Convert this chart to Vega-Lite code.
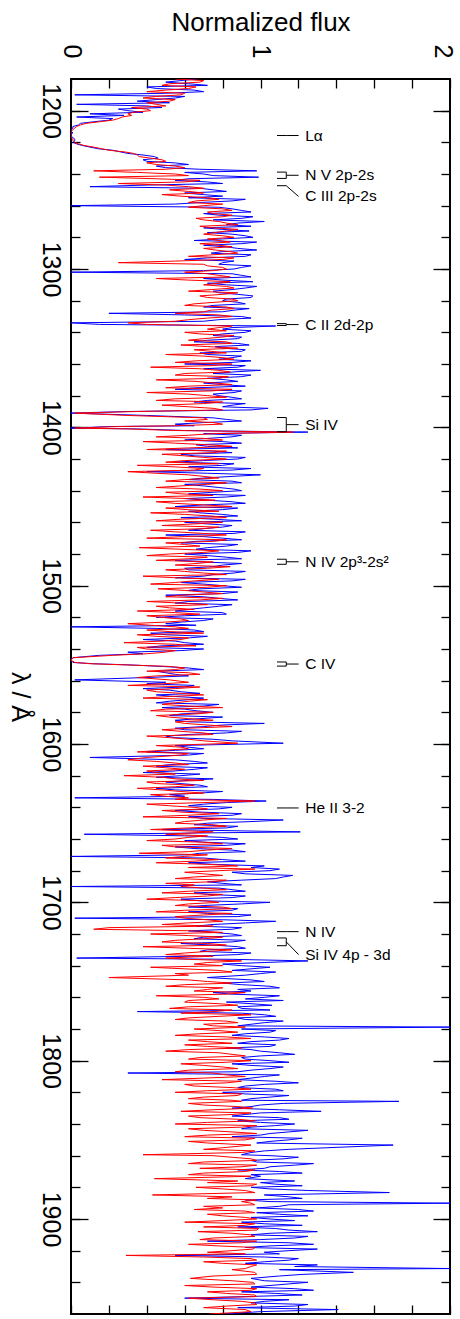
{
"$schema": "https://vega.github.io/schema/vega-lite/v6.json",
"width": 379, "height": 1235,
"autosize": "none",
"padding": {"left": 71, "top": 79, "right": 10, "bottom": 5},
"background": "white",
"config": {"view": {"stroke": "black", "strokeWidth": 2},
  "axis": {"grid": false, "domain": false, "tickColor": "black", "tickWidth": 1.3, "labelColor": "black", "titleColor": "black", "labelFont": "Liberation Sans", "titleFont": "Liberation Sans", "labelFlush": false, "labelOverlap": false, "titleFontWeight": "normal"}},
"datasets": {
"spec": [
{"w":1180,"b":0.66,"r":0.55},{"w":1182,"b":0.50,"r":0.68},{"w":1184,"b":0.72,"r":0.48},{"w":1186,"b":0.45,"r":0.62},{"w":1188,"b":0.70,"r":0.40},{"w":1190,"b":0.02,"r":0.58},{"w":1192,"b":0.55,"r":0.38},{"w":1194,"b":0.35,"r":0.52},{"w":1196,"b":0.03,"r":0.45},{"w":1198,"b":0.48,"r":0.32},
{"w":1200,"b":0.30,"r":0.42},{"w":1202,"b":0.10,"r":0.30},{"w":1204,"b":0.03,"r":0.27},{"w":1206,"b":0.20,"r":0.22},{"w":1208,"b":0.05,"r":0.08},{"w":1210,"b":0.01,"r":0.03},{"w":1212,"b":0.00,"r":0.01},{"w":1214,"b":0.01,"r":0.00},{"w":1216,"b":0.00,"r":0.00},{"w":1218,"b":0.02,"r":0.01},
{"w":1220,"b":0.01,"r":0.02},{"w":1222,"b":0.06,"r":0.07},{"w":1224,"b":0.14,"r":0.16},{"w":1226,"b":0.26,"r":0.28},{"w":1228,"b":0.38,"r":0.35},{"w":1230,"b":0.46,"r":0.42},{"w":1232,"b":0.40,"r":0.50},{"w":1234,"b":0.62,"r":0.45},{"w":1236,"b":0.50,"r":0.60},{"w":1238,"b":0.98,"r":0.12},
{"w":1240,"b":0.70,"r":0.55},{"w":1242,"b":0.99,"r":0.15},{"w":1244,"b":0.55,"r":0.68},{"w":1246,"b":0.80,"r":0.25},{"w":1248,"b":0.10,"r":0.62},{"w":1250,"b":0.75,"r":0.52},{"w":1252,"b":0.60,"r":0.70},{"w":1254,"b":0.80,"r":0.58},{"w":1256,"b":0.92,"r":0.78},{"w":1258,"b":0.68,"r":0.62},
{"w":1260,"b":0.00,"r":0.70},{"w":1262,"b":0.85,"r":0.80},{"w":1264,"b":0.95,"r":0.72},{"w":1266,"b":0.78,"r":0.85},{"w":1268,"b":0.90,"r":0.66},{"w":1270,"b":1.02,"r":0.78},{"w":1272,"b":0.82,"r":0.88},{"w":1274,"b":0.70,"r":0.75},{"w":1276,"b":0.94,"r":0.82},{"w":1278,"b":0.85,"r":0.70},
{"w":1280,"b":0.96,"r":0.86},{"w":1282,"b":0.65,"r":0.78},{"w":1284,"b":0.90,"r":0.68},{"w":1286,"b":0.82,"r":0.85},{"w":1288,"b":0.98,"r":0.76},{"w":1290,"b":0.74,"r":0.88},{"w":1292,"b":0.92,"r":0.62},{"w":1294,"b":0.60,"r":0.80},{"w":1296,"b":0.80,"r":0.25},{"w":1298,"b":0.95,"r":0.72},
{"w":1300,"b":0.86,"r":0.82},{"w":1302,"b":0.00,"r":0.60},{"w":1304,"b":0.90,"r":0.78},{"w":1306,"b":0.70,"r":0.45},{"w":1308,"b":0.96,"r":0.84},{"w":1310,"b":0.82,"r":0.70},{"w":1312,"b":0.92,"r":0.86},{"w":1314,"b":0.75,"r":0.62},{"w":1316,"b":0.88,"r":0.80},{"w":1318,"b":0.95,"r":0.72},
{"w":1320,"b":0.80,"r":0.88},{"w":1322,"b":0.92,"r":0.65},{"w":1324,"b":0.70,"r":0.82},{"w":1326,"b":0.86,"r":0.74},{"w":1328,"b":0.20,"r":0.55},{"w":1330,"b":0.90,"r":0.85},{"w":1332,"b":0.78,"r":0.62},{"w":1334,"b":0.00,"r":0.30},{"w":1336,"b":1.08,"r":0.85},{"w":1338,"b":0.80,"r":0.72},
{"w":1340,"b":0.92,"r":0.60},{"w":1342,"b":0.75,"r":0.86},{"w":1344,"b":0.88,"r":0.70},{"w":1346,"b":0.65,"r":0.82},{"w":1348,"b":0.94,"r":0.58},{"w":1350,"b":0.80,"r":0.88},{"w":1352,"b":0.90,"r":0.74},{"w":1354,"b":0.72,"r":0.50},{"w":1356,"b":0.85,"r":0.80},{"w":1358,"b":0.95,"r":0.66},
{"w":1360,"b":0.60,"r":0.85},{"w":1362,"b":0.88,"r":0.42},{"w":1364,"b":1.00,"r":0.78},{"w":1366,"b":0.75,"r":0.60},{"w":1368,"b":0.90,"r":0.83},{"w":1370,"b":0.82,"r":0.45},{"w":1372,"b":0.70,"r":0.76},{"w":1374,"b":0.92,"r":0.62},{"w":1376,"b":0.55,"r":0.85},{"w":1378,"b":0.86,"r":0.40},
{"w":1380,"b":0.78,"r":0.72},{"w":1382,"b":0.90,"r":0.55},{"w":1384,"b":0.65,"r":0.80},{"w":1386,"b":0.85,"r":0.48},{"w":1388,"b":1.04,"r":0.75},{"w":1390,"b":0.30,"r":0.35},{"w":1391,"b":0.00,"r":0.02},{"w":1392.5,"b":0.40,"r":0.30},{"w":1394,"b":0.75,"r":0.70},{"w":1396,"b":0.90,"r":0.60},
{"w":1398,"b":0.55,"r":0.80},{"w":1399.5,"b":0.20,"r":0.25},{"w":1400.5,"b":0.00,"r":0.02},{"w":1402,"b":0.60,"r":0.55},{"w":1403,"b":1.25,"r":1.17},{"w":1404,"b":0.70,"r":0.75},{"w":1406,"b":0.85,"r":0.45},{"w":1408,"b":0.60,"r":0.80},{"w":1410,"b":0.90,"r":0.55},{"w":1412,"b":0.72,"r":0.85},
{"w":1414,"b":0.50,"r":0.40},{"w":1416,"b":0.85,"r":0.75},{"w":1418,"b":0.65,"r":0.60},{"w":1420,"b":0.88,"r":0.82},{"w":1422,"b":0.55,"r":0.50},{"w":1424,"b":0.80,"r":0.35},{"w":1426,"b":0.95,"r":0.70},{"w":1428,"b":0.40,"r":0.30},{"w":1430,"b":1.00,"r":0.62},{"w":1432,"b":0.70,"r":0.78},
{"w":1434,"b":0.85,"r":0.50},{"w":1436,"b":0.60,"r":0.72},{"w":1438,"b":0.78,"r":0.45},{"w":1440,"b":0.90,"r":0.80},{"w":1442,"b":0.62,"r":0.58},{"w":1444,"b":0.82,"r":0.38},{"w":1446,"b":0.72,"r":0.76},{"w":1448,"b":0.92,"r":0.55},{"w":1450,"b":0.55,"r":0.85},{"w":1452,"b":0.80,"r":0.62},
{"w":1454,"b":0.68,"r":0.42},{"w":1456,"b":0.88,"r":0.74},{"w":1458,"b":0.75,"r":0.58},{"w":1460,"b":0.60,"r":0.80},{"w":1462,"b":0.85,"r":0.48},{"w":1464,"b":0.70,"r":0.70},{"w":1466,"b":0.92,"r":0.55},{"w":1468,"b":0.50,"r":0.82},{"w":1470,"b":0.80,"r":0.40},{"w":1472,"b":0.66,"r":0.75},
{"w":1474,"b":0.88,"r":0.60},{"w":1476,"b":0.72,"r":0.36},{"w":1478,"b":0.95,"r":0.78},{"w":1480,"b":0.60,"r":0.52},{"w":1482,"b":0.82,"r":0.72},{"w":1484,"b":0.55,"r":0.45},{"w":1486,"b":0.90,"r":0.66},{"w":1488,"b":0.75,"r":0.84},{"w":1490,"b":0.62,"r":0.50},{"w":1492,"b":0.86,"r":0.70},
{"w":1494,"b":0.70,"r":0.38},{"w":1496,"b":0.92,"r":0.78},{"w":1498,"b":0.58,"r":0.55},{"w":1500,"b":0.80,"r":0.82},{"w":1502,"b":0.68,"r":0.46},{"w":1504,"b":0.88,"r":0.70},{"w":1506,"b":0.50,"r":0.58},{"w":1508,"b":0.78,"r":0.80},{"w":1510,"b":0.62,"r":0.40},{"w":1512,"b":0.85,"r":0.72},
{"w":1514,"b":0.70,"r":0.52},{"w":1516,"b":0.55,"r":0.35},{"w":1518,"b":0.82,"r":0.68},{"w":1520,"b":0.45,"r":0.48},{"w":1522,"b":0.70,"r":0.62},{"w":1524,"b":0.50,"r":0.30},{"w":1526,"b":0.00,"r":0.55},{"w":1528,"b":0.65,"r":0.40},{"w":1530,"b":0.42,"r":0.70},{"w":1532,"b":0.72,"r":0.45},
{"w":1534,"b":0.38,"r":0.58},{"w":1536,"b":0.60,"r":0.28},{"w":1538,"b":0.48,"r":0.66},{"w":1540,"b":0.70,"r":0.40},{"w":1542,"b":0.30,"r":0.50},{"w":1544,"b":0.15,"r":0.22},{"w":1545.5,"b":0.01,"r":0.01},{"w":1547,"b":0.00,"r":0.00},{"w":1548.5,"b":0.01,"r":0.02},{"w":1550,"b":0.30,"r":0.28},
{"w":1552,"b":0.62,"r":0.60},{"w":1554,"b":0.45,"r":0.40},{"w":1556,"b":0.55,"r":0.68},{"w":1558,"b":0.40,"r":0.35},{"w":1559.5,"b":0.02,"r":0.52},{"w":1561,"b":0.50,"r":0.62},{"w":1563,"b":0.65,"r":0.30},{"w":1565,"b":0.38,"r":0.55},{"w":1567,"b":0.58,"r":0.45},{"w":1569,"b":0.45,"r":0.70},
{"w":1571,"b":0.70,"r":0.38},{"w":1573,"b":0.52,"r":0.62},{"w":1575,"b":0.78,"r":0.48},{"w":1577,"b":0.48,"r":0.80},{"w":1579,"b":0.66,"r":0.42},{"w":1581,"b":0.58,"r":0.66},{"w":1583,"b":0.80,"r":0.52},{"w":1585,"b":0.55,"r":0.75},{"w":1587,"b":1.02,"r":0.60},{"w":1589,"b":0.70,"r":0.85},
{"w":1591,"b":0.60,"r":0.48},{"w":1593,"b":0.82,"r":0.70},{"w":1595,"b":0.50,"r":0.40},{"w":1597,"b":0.75,"r":0.62},{"w":1599.5,"b":1.12,"r":0.88},{"w":1601,"b":0.55,"r":0.45},{"w":1603,"b":0.70,"r":0.62},{"w":1605,"b":0.40,"r":0.35},{"w":1607,"b":0.62,"r":0.58},{"w":1608.5,"b":0.10,"r":0.40},
{"w":1610,"b":0.55,"r":0.30},{"w":1612,"b":0.72,"r":0.55},{"w":1614,"b":0.45,"r":0.38},{"w":1616,"b":0.65,"r":0.60},{"w":1618,"b":0.38,"r":0.45},{"w":1620,"b":0.58,"r":0.28},{"w":1622,"b":0.75,"r":0.55},{"w":1624,"b":0.50,"r":0.40},{"w":1626,"b":0.68,"r":0.65},{"w":1628,"b":0.45,"r":0.35},
{"w":1630,"b":0.80,"r":0.58},{"w":1632,"b":0.52,"r":0.42},{"w":1634,"b":0.02,"r":0.62},{"w":1636,"b":1.03,"r":0.97},{"w":1638,"b":0.70,"r":0.40},{"w":1640,"b":0.85,"r":0.65},{"w":1642,"b":0.55,"r":0.48},{"w":1644,"b":0.90,"r":0.78},{"w":1646,"b":0.62,"r":0.38},{"w":1648,"b":1.12,"r":0.70},
{"w":1650,"b":0.72,"r":0.55},{"w":1652,"b":0.88,"r":0.82},{"w":1654,"b":0.48,"r":0.42},{"w":1655.5,"b":1.21,"r":0.75},{"w":1657,"b":0.07,"r":0.50},{"w":1659,"b":0.80,"r":0.62},{"w":1661,"b":0.60,"r":0.40},{"w":1663,"b":0.92,"r":0.80},{"w":1665,"b":0.55,"r":0.55},{"w":1667,"b":0.85,"r":0.72},
{"w":1669,"b":0.68,"r":0.36},{"w":1671,"b":0.00,"r":0.60},{"w":1673,"b":0.80,"r":0.78},{"w":1675,"b":0.62,"r":0.45},{"w":1677,"b":1.02,"r":0.88},{"w":1679,"b":1.10,"r":0.97},{"w":1681,"b":0.85,"r":0.60},{"w":1683,"b":1.17,"r":0.80},{"w":1685,"b":1.08,"r":0.55},{"w":1687,"b":0.72,"r":0.75},
{"w":1689,"b":0.90,"r":0.65},{"w":1690,"b":0.00,"r":0.58},{"w":1692,"b":0.85,"r":0.82},{"w":1694,"b":0.65,"r":0.48},{"w":1696,"b":0.92,"r":0.72},{"w":1698,"b":0.58,"r":0.40},{"w":1700,"b":1.05,"r":0.78},{"w":1702,"b":0.70,"r":0.55},{"w":1704,"b":0.88,"r":0.85},{"w":1706,"b":0.62,"r":0.45},
{"w":1708,"b":0.95,"r":0.70},{"w":1710,"b":0.02,"r":0.60},{"w":1712,"b":1.08,"r":0.80},{"w":1714,"b":0.75,"r":0.48},{"w":1716,"b":0.90,"r":0.20},{"w":1718,"b":0.62,"r":0.65},{"w":1720,"b":0.85,"r":0.42},{"w":1722,"b":0.70,"r":0.80},{"w":1724,"b":0.92,"r":0.55},{"w":1726,"b":0.58,"r":0.72},
{"w":1728,"b":0.88,"r":0.38},{"w":1730,"b":0.72,"r":0.85},{"w":1732,"b":0.95,"r":0.60},{"w":1734,"b":0.65,"r":0.75},{"w":1735.2,"b":0.03,"r":0.50},{"w":1737,"b":1.25,"r":0.90},{"w":1739,"b":0.80,"r":0.65},{"w":1741,"b":1.05,"r":0.42},{"w":1743,"b":0.85,"r":0.78},{"w":1745,"b":1.00,"r":0.55},
{"w":1747.5,"b":0.72,"r":0.20},{"w":1749,"b":0.95,"r":0.62},{"w":1751,"b":0.80,"r":0.85},{"w":1753,"b":1.05,"r":0.50},{"w":1755,"b":0.88,"r":0.72},{"w":1757,"b":0.75,"r":0.92},{"w":1759,"b":1.10,"r":0.45},{"w":1761,"b":0.92,"r":0.78},{"w":1763,"b":0.82,"r":0.60},{"w":1765,"b":1.06,"r":0.88},
{"w":1767,"b":0.90,"r":0.52},{"w":1769,"b":0.35,"r":0.75},{"w":1771,"b":1.02,"r":0.95},{"w":1773,"b":0.88,"r":0.62},{"w":1775,"b":1.12,"r":0.82},{"w":1777,"b":0.95,"r":0.70},{"w":1778.8,"b":2.00,"r":0.92},{"w":1780,"b":0.90,"r":0.65},{"w":1782,"b":1.05,"r":0.88},{"w":1784,"b":0.85,"r":0.55},
{"w":1786,"b":1.15,"r":0.95},{"w":1788,"b":0.95,"r":0.72},{"w":1790,"b":1.08,"r":0.60},{"w":1792,"b":0.82,"r":0.90},{"w":1794,"b":1.00,"r":0.50},{"w":1796,"b":1.18,"r":0.85},{"w":1798,"b":0.90,"r":0.68},{"w":1800,"b":1.05,"r":0.95},{"w":1802,"b":0.85,"r":0.58},{"w":1804,"b":1.12,"r":0.80},
{"w":1806,"b":0.95,"r":0.62},{"w":1807.8,"b":0.30,"r":0.75},{"w":1810,"b":1.02,"r":0.92},{"w":1812,"b":0.88,"r":0.48},{"w":1814,"b":1.20,"r":0.82},{"w":1816,"b":0.92,"r":0.65},{"w":1818,"b":1.08,"r":0.95},{"w":1820,"b":0.80,"r":0.55},{"w":1822,"b":1.15,"r":0.88},{"w":1824,"b":0.95,"r":0.62},
{"w":1825.7,"b":1.73,"r":0.90},{"w":1828,"b":1.00,"r":0.70},{"w":1830,"b":0.85,"r":0.96},{"w":1832,"b":1.32,"r":0.58},{"w":1834,"b":0.92,"r":0.85},{"w":1836,"b":1.10,"r":0.68},{"w":1838,"b":0.88,"r":0.97},{"w":1840,"b":1.18,"r":0.55},{"w":1842,"b":0.95,"r":0.90},{"w":1844,"b":1.25,"r":0.70},
{"w":1846,"b":1.05,"r":0.98},{"w":1848,"b":0.85,"r":0.60},{"w":1850,"b":1.15,"r":0.92},{"w":1852,"b":0.98,"r":0.72},{"w":1853.3,"b":1.70,"r":0.95},{"w":1855,"b":1.35,"r":0.80},{"w":1857,"b":1.02,"r":0.97},{"w":1859.4,"b":0.90,"r":0.38},{"w":1861,"b":1.20,"r":0.85},{"w":1863,"b":0.95,"r":0.98},
{"w":1865,"b":1.28,"r":0.62},{"w":1867,"b":1.05,"r":0.90},{"w":1869,"b":0.88,"r":0.97},{"w":1871,"b":1.22,"r":0.70},{"w":1873,"b":1.00,"r":0.95},{"w":1874.5,"b":0.92,"r":0.44},{"w":1876,"b":1.18,"r":0.88},{"w":1878,"b":1.08,"r":0.98},{"w":1880,"b":0.95,"r":0.66},{"w":1882,"b":1.25,"r":0.92},
{"w":1883.3,"b":1.68,"r":0.97},{"w":1884.8,"b":1.02,"r":0.43},{"w":1886,"b":1.15,"r":0.85},{"w":1888,"b":0.92,"r":0.98},{"w":1890,"b":2.00,"r":0.95},{"w":1892,"b":1.10,"r":0.70},{"w":1894,"b":1.20,"r":0.65},{"w":1896,"b":0.98,"r":0.97},{"w":1898,"b":1.25,"r":0.80},{"w":1900,"b":1.05,"r":0.98},
{"w":1902,"b":0.90,"r":0.60},{"w":1904,"b":1.22,"r":0.92},{"w":1906,"b":1.08,"r":0.99},{"w":1908,"b":1.30,"r":0.67},{"w":1910,"b":0.95,"r":0.95},{"w":1912,"b":1.18,"r":0.75},{"w":1914,"b":0.72,"r":0.98},{"w":1916,"b":1.28,"r":0.62},{"w":1918,"b":0.92,"r":0.97},{"w":1920,"b":1.15,"r":0.85},
{"w":1923,"b":0.55,"r":0.29},{"w":1925,"b":1.20,"r":0.95},{"w":1927,"b":1.02,"r":0.70},{"w":1929,"b":1.30,"r":0.98},{"w":1931.3,"b":2.00,"r":0.92},{"w":1933.7,"b":1.49,"r":0.97},{"w":1936,"b":1.10,"r":0.75},{"w":1937.5,"b":0.95,"r":0.63},{"w":1940,"b":1.25,"r":0.96},{"w":1942,"b":1.05,"r":0.60},
{"w":1944,"b":1.18,"r":0.98},{"w":1946,"b":0.90,"r":0.72},{"w":1948,"b":1.22,"r":0.97},{"w":1950,"b":0.60,"r":0.62},{"w":1952,"b":1.02,"r":0.90},{"w":1954,"b":1.25,"r":0.98},{"w":1956,"b":0.88,"r":0.70},{"w":1957.2,"b":1.41,"r":0.92},{"w":1960,"b":0.80,"r":0.73},
{"w":1181,"b":0.58,"r":0.70},{"w":1183,"b":0.62,"r":0.52},{"w":1185,"b":0.40,"r":0.66},{"w":1187,"b":0.65,"r":0.50},{"w":1189,"b":0.50,"r":0.60},{"w":1191,"b":0.60,"r":0.45},{"w":1193,"b":0.45,"r":0.55},{"w":1195,"b":0.52,"r":0.40},{"w":1197,"b":0.40,"r":0.50},{"w":1199,"b":0.25,"r":0.40},
{"w":1201,"b":0.38,"r":0.33},{"w":1203,"b":0.28,"r":0.32},{"w":1205,"b":0.22,"r":0.25},{"w":1207,"b":0.12,"r":0.15},{"w":1209,"b":0.04,"r":0.05},{"w":1211,"b":0.01,"r":0.02},{"w":1213,"b":0.00,"r":0.00},{"w":1215,"b":0.00,"r":0.00},{"w":1217,"b":0.01,"r":0.00},{"w":1219,"b":0.02,"r":0.01},
{"w":1221,"b":0.03,"r":0.04},{"w":1223,"b":0.10,"r":0.12},{"w":1225,"b":0.22,"r":0.20},{"w":1227,"b":0.30,"r":0.33},{"w":1229,"b":0.44,"r":0.36},{"w":1231,"b":0.38,"r":0.48},{"w":1233,"b":0.55,"r":0.40},{"w":1235,"b":0.45,"r":0.55},{"w":1237,"b":0.68,"r":0.50},{"w":1239,"b":0.60,"r":0.35},
{"w":1241,"b":0.75,"r":0.62},{"w":1243,"b":0.62,"r":0.45},{"w":1245,"b":0.72,"r":0.60},{"w":1247,"b":0.40,"r":0.50},{"w":1249,"b":0.68,"r":0.70},{"w":1251,"b":0.82,"r":0.62},{"w":1253,"b":0.70,"r":0.48},{"w":1255,"b":0.62,"r":0.72},{"w":1257,"b":0.85,"r":0.66},{"w":1259,"b":0.55,"r":0.80},
{"w":1261,"b":0.78,"r":0.62},{"w":1263,"b":0.90,"r":0.85},{"w":1265,"b":0.70,"r":0.75},{"w":1267,"b":0.96,"r":0.80},{"w":1269,"b":0.75,"r":0.70},{"w":1271,"b":0.88,"r":0.82},{"w":1273,"b":0.95,"r":0.68},{"w":1275,"b":0.80,"r":0.88},{"w":1277,"b":0.72,"r":0.76},{"w":1279,"b":0.92,"r":0.80},
{"w":1281,"b":0.80,"r":0.72},{"w":1283,"b":0.98,"r":0.84},{"w":1285,"b":0.70,"r":0.78},{"w":1287,"b":0.88,"r":0.70},{"w":1289,"b":0.80,"r":0.84},{"w":1291,"b":0.95,"r":0.75},{"w":1293,"b":0.72,"r":0.86},{"w":1295,"b":0.86,"r":0.55},{"w":1297,"b":0.78,"r":0.70},{"w":1299,"b":0.90,"r":0.80},
{"w":1301,"b":0.70,"r":0.75},{"w":1303,"b":0.85,"r":0.72},{"w":1305,"b":0.95,"r":0.84},{"w":1307,"b":0.80,"r":0.62},{"w":1309,"b":0.72,"r":0.78},{"w":1311,"b":0.98,"r":0.82},{"w":1313,"b":0.85,"r":0.74},{"w":1315,"b":0.78,"r":0.88},{"w":1317,"b":0.96,"r":0.68},{"w":1319,"b":0.82,"r":0.85},
{"w":1321,"b":0.88,"r":0.76},{"w":1323,"b":0.75,"r":0.60},{"w":1325,"b":0.94,"r":0.86},{"w":1327,"b":0.80,"r":0.70},{"w":1329,"b":0.60,"r":0.78},{"w":1331,"b":0.95,"r":0.72},{"w":1333,"b":0.70,"r":0.55},{"w":1335,"b":0.15,"r":0.40},{"w":1337,"b":0.85,"r":0.78},{"w":1339,"b":0.95,"r":0.82},
{"w":1341,"b":0.80,"r":0.68},{"w":1343,"b":0.90,"r":0.80},{"w":1345,"b":0.72,"r":0.62},{"w":1347,"b":0.88,"r":0.85},{"w":1349,"b":0.76,"r":0.72},{"w":1351,"b":0.92,"r":0.65},{"w":1353,"b":0.68,"r":0.82},{"w":1355,"b":0.90,"r":0.70},{"w":1357,"b":0.78,"r":0.86},{"w":1359,"b":0.85,"r":0.55},
{"w":1361,"b":0.92,"r":0.75},{"w":1363,"b":0.70,"r":0.68},{"w":1365,"b":0.86,"r":0.84},{"w":1367,"b":0.95,"r":0.55},{"w":1369,"b":0.72,"r":0.78},{"w":1371,"b":0.88,"r":0.66},{"w":1373,"b":0.80,"r":0.85},{"w":1375,"b":0.66,"r":0.50},{"w":1377,"b":0.90,"r":0.74},{"w":1379,"b":0.75,"r":0.62},
{"w":1381,"b":0.85,"r":0.82},{"w":1383,"b":0.72,"r":0.45},{"w":1385,"b":0.92,"r":0.70},{"w":1387,"b":0.80,"r":0.62},{"w":1389,"b":0.95,"r":0.80},{"w":1395,"b":0.82,"r":0.72},{"w":1397,"b":0.70,"r":0.75},{"w":1399,"b":0.65,"r":0.55},{"w":1401,"b":0.35,"r":0.30},
{"w":1405,"b":0.90,"r":0.62},{"w":1407,"b":0.72,"r":0.70},{"w":1409,"b":0.80,"r":0.38},{"w":1411,"b":0.66,"r":0.72},{"w":1413,"b":0.88,"r":0.62},{"w":1415,"b":0.75,"r":0.82},{"w":1417,"b":0.58,"r":0.48},{"w":1419,"b":0.92,"r":0.70},{"w":1421,"b":0.70,"r":0.60},{"w":1423,"b":0.86,"r":0.78},
{"w":1425,"b":0.62,"r":0.55},{"w":1427,"b":0.85,"r":0.65},{"w":1429,"b":0.72,"r":0.45},{"w":1431,"b":0.85,"r":0.70},{"w":1433,"b":0.62,"r":0.60},{"w":1435,"b":0.90,"r":0.82},{"w":1437,"b":0.70,"r":0.58},{"w":1439,"b":0.86,"r":0.68},{"w":1441,"b":0.75,"r":0.50},{"w":1443,"b":0.92,"r":0.75},
{"w":1445,"b":0.60,"r":0.62},{"w":1447,"b":0.85,"r":0.45},{"w":1449,"b":0.70,"r":0.70},{"w":1451,"b":0.88,"r":0.50},{"w":1453,"b":0.62,"r":0.78},{"w":1455,"b":0.80,"r":0.60},{"w":1457,"b":0.58,"r":0.82},{"w":1459,"b":0.90,"r":0.45},{"w":1461,"b":0.72,"r":0.65},{"w":1463,"b":0.80,"r":0.78},
{"w":1465,"b":0.62,"r":0.42},{"w":1467,"b":0.86,"r":0.70},{"w":1469,"b":0.70,"r":0.60},{"w":1471,"b":0.90,"r":0.82},{"w":1473,"b":0.58,"r":0.50},{"w":1475,"b":0.82,"r":0.68},{"w":1477,"b":0.66,"r":0.58},{"w":1479,"b":0.88,"r":0.70},{"w":1481,"b":0.72,"r":0.40},{"w":1483,"b":0.90,"r":0.62},
{"w":1485,"b":0.68,"r":0.75},{"w":1487,"b":0.80,"r":0.55},{"w":1489,"b":0.60,"r":0.72},{"w":1491,"b":0.92,"r":0.60},{"w":1493,"b":0.75,"r":0.82},{"w":1495,"b":0.55,"r":0.55},{"w":1497,"b":0.85,"r":0.65},{"w":1499,"b":0.70,"r":0.42},{"w":1501,"b":0.90,"r":0.72},{"w":1503,"b":0.62,"r":0.60},
{"w":1505,"b":0.80,"r":0.80},{"w":1507,"b":0.70,"r":0.50},{"w":1509,"b":0.88,"r":0.68},{"w":1511,"b":0.55,"r":0.58},{"w":1513,"b":0.78,"r":0.45},{"w":1515,"b":0.62,"r":0.65},{"w":1517,"b":0.80,"r":0.55},{"w":1519,"b":0.60,"r":0.40},{"w":1521,"b":0.75,"r":0.58},{"w":1523,"b":0.58,"r":0.50},
{"w":1525,"b":0.66,"r":0.42},{"w":1527,"b":0.45,"r":0.62},{"w":1529,"b":0.70,"r":0.52},{"w":1531,"b":0.50,"r":0.35},{"w":1533,"b":0.62,"r":0.62},{"w":1535,"b":0.55,"r":0.48},{"w":1537,"b":0.70,"r":0.55},{"w":1539,"b":0.40,"r":0.35},{"w":1541,"b":0.58,"r":0.55},{"w":1543,"b":0.38,"r":0.40},
{"w":1549.3,"b":0.12,"r":0.10},{"w":1551,"b":0.48,"r":0.52},{"w":1553,"b":0.70,"r":0.55},{"w":1555,"b":0.50,"r":0.62},{"w":1557,"b":0.62,"r":0.45},{"w":1562,"b":0.40,"r":0.48},{"w":1564,"b":0.60,"r":0.68},{"w":1566,"b":0.52,"r":0.40},{"w":1568,"b":0.68,"r":0.58},{"w":1570,"b":0.55,"r":0.52},
{"w":1572,"b":0.62,"r":0.72},{"w":1574,"b":0.45,"r":0.55},{"w":1576,"b":0.70,"r":0.62},{"w":1578,"b":0.60,"r":0.50},{"w":1580,"b":0.75,"r":0.75},{"w":1582,"b":0.52,"r":0.45},{"w":1584,"b":0.68,"r":0.62},{"w":1586,"b":0.62,"r":0.55},{"w":1588,"b":0.80,"r":0.72},{"w":1590,"b":0.55,"r":0.62},
{"w":1592,"b":0.90,"r":0.58},{"w":1594,"b":0.62,"r":0.75},{"w":1596,"b":0.55,"r":0.52},{"w":1598,"b":0.85,"r":0.70},{"w":1602,"b":0.62,"r":0.58},{"w":1604,"b":0.55,"r":0.48},{"w":1606,"b":0.70,"r":0.62},{"w":1611,"b":0.65,"r":0.45},{"w":1613,"b":0.52,"r":0.62},{"w":1615,"b":0.72,"r":0.50},
{"w":1617,"b":0.55,"r":0.40},{"w":1619,"b":0.68,"r":0.55},{"w":1621,"b":0.45,"r":0.48},{"w":1623,"b":0.62,"r":0.70},{"w":1625,"b":0.58,"r":0.45},{"w":1627,"b":0.72,"r":0.55},{"w":1629,"b":0.55,"r":0.48},{"w":1631,"b":0.68,"r":0.70},{"w":1633,"b":0.60,"r":0.50},{"w":1635,"b":0.75,"r":0.55},
{"w":1637,"b":0.82,"r":0.70},{"w":1639,"b":0.62,"r":0.52},{"w":1641,"b":0.78,"r":0.72},{"w":1643,"b":0.68,"r":0.58},{"w":1645,"b":0.85,"r":0.62},{"w":1647,"b":0.70,"r":0.82},{"w":1649,"b":0.95,"r":0.60},{"w":1651,"b":0.65,"r":0.75},{"w":1653,"b":0.82,"r":0.62},{"w":1658,"b":0.60,"r":0.72},
{"w":1660,"b":0.88,"r":0.55},{"w":1662,"b":0.70,"r":0.70},{"w":1664,"b":0.82,"r":0.48},{"w":1666,"b":0.65,"r":0.85},{"w":1668,"b":0.92,"r":0.62},{"w":1670,"b":0.62,"r":0.72},{"w":1672,"b":0.70,"r":0.50},{"w":1674,"b":0.92,"r":0.65},{"w":1676,"b":0.75,"r":0.72},{"w":1678,"b":0.95,"r":0.62},
{"w":1680,"b":1.05,"r":0.78},{"w":1682,"b":0.92,"r":0.70},{"w":1684,"b":1.12,"r":0.65},{"w":1686,"b":0.90,"r":0.82},{"w":1688,"b":0.80,"r":0.50},{"w":1691,"b":0.78,"r":0.70},{"w":1693,"b":0.92,"r":0.62},{"w":1695,"b":0.72,"r":0.80},{"w":1697,"b":0.85,"r":0.55},{"w":1699,"b":0.68,"r":0.70},
{"w":1701,"b":0.90,"r":0.62},{"w":1703,"b":0.62,"r":0.80},{"w":1705,"b":0.85,"r":0.60},{"w":1707,"b":0.72,"r":0.85},{"w":1709,"b":0.88,"r":0.55},{"w":1711,"b":0.80,"r":0.72},{"w":1713,"b":0.92,"r":0.62},{"w":1715,"b":0.66,"r":0.75},{"w":1717,"b":0.85,"r":0.12},{"w":1719,"b":0.75,"r":0.80},
{"w":1721,"b":0.90,"r":0.62},{"w":1723,"b":0.65,"r":0.70},{"w":1725,"b":0.85,"r":0.48},{"w":1727,"b":0.75,"r":0.82},{"w":1729,"b":0.92,"r":0.62},{"w":1731,"b":0.68,"r":0.72},{"w":1733,"b":0.88,"r":0.50},{"w":1736,"b":0.85,"r":0.62},{"w":1738,"b":1.02,"r":0.72},{"w":1740,"b":0.90,"r":0.80},
{"w":1742,"b":0.95,"r":0.60},{"w":1744,"b":1.08,"r":0.85},{"w":1746,"b":0.92,"r":0.62},{"w":1750,"b":1.02,"r":0.72},{"w":1752,"b":0.90,"r":0.60},{"w":1754,"b":1.10,"r":0.80},{"w":1756,"b":0.95,"r":0.65},{"w":1758,"b":0.85,"r":0.82},{"w":1760,"b":1.02,"r":0.70},{"w":1762,"b":1.12,"r":0.62},
{"w":1764,"b":0.95,"r":0.78},{"w":1766,"b":0.88,"r":0.62},{"w":1768,"b":1.05,"r":0.85},{"w":1770,"b":0.90,"r":0.58},{"w":1772,"b":1.08,"r":0.78},{"w":1774,"b":0.92,"r":0.55},{"w":1776,"b":1.02,"r":0.88},{"w":1778,"b":0.88,"r":0.75},{"w":1781,"b":1.08,"r":0.78},{"w":1783,"b":0.92,"r":0.68},
{"w":1785,"b":1.02,"r":0.82},{"w":1787,"b":1.10,"r":0.62},{"w":1789,"b":0.88,"r":0.85},{"w":1791,"b":1.05,"r":0.72},{"w":1793,"b":0.95,"r":0.62},{"w":1795,"b":1.10,"r":0.78},{"w":1797,"b":1.00,"r":0.92},{"w":1799,"b":0.92,"r":0.62},{"w":1801,"b":1.15,"r":0.82},{"w":1803,"b":0.95,"r":0.70},
{"w":1805,"b":1.05,"r":0.88},{"w":1807,"b":0.88,"r":0.55},{"w":1809,"b":1.10,"r":0.82},{"w":1811,"b":0.95,"r":0.70},{"w":1813,"b":1.08,"r":0.90},{"w":1815,"b":1.02,"r":0.60},{"w":1817,"b":0.88,"r":0.85},{"w":1819,"b":1.12,"r":0.72},{"w":1821,"b":0.92,"r":0.90},{"w":1823,"b":1.05,"r":0.70},
{"w":1825,"b":0.90,"r":0.85},{"w":1827,"b":1.12,"r":0.62},{"w":1829,"b":0.95,"r":0.88},{"w":1831,"b":1.10,"r":0.75},{"w":1833,"b":1.00,"r":0.95},{"w":1835,"b":0.85,"r":0.62},{"w":1837,"b":1.15,"r":0.88},{"w":1839,"b":1.00,"r":0.72},{"w":1841,"b":1.08,"r":0.98},{"w":1843,"b":0.90,"r":0.62},
{"w":1845,"b":1.15,"r":0.85},{"w":1847,"b":1.00,"r":0.72},{"w":1849,"b":1.22,"r":0.97},{"w":1851,"b":1.05,"r":0.62},{"w":1856,"b":1.15,"r":0.70},{"w":1858,"b":0.95,"r":0.90},{"w":1860,"b":1.05,"r":0.75},{"w":1862,"b":1.12,"r":0.95},{"w":1864,"b":0.98,"r":0.70},{"w":1866,"b":1.18,"r":0.98},
{"w":1868,"b":1.02,"r":0.68},{"w":1870,"b":1.10,"r":0.92},{"w":1872,"b":0.95,"r":0.62},{"w":1877,"b":1.00,"r":0.72},{"w":1879,"b":1.22,"r":0.95},{"w":1881,"b":1.05,"r":0.80},{"w":1887,"b":1.22,"r":0.72},{"w":1889,"b":1.05,"r":0.90},{"w":1891,"b":1.15,"r":0.97},{"w":1893,"b":0.98,"r":0.80},
{"w":1895,"b":1.28,"r":0.92},{"w":1897,"b":1.10,"r":0.72},{"w":1899,"b":0.95,"r":0.92},{"w":1901,"b":1.18,"r":0.80},{"w":1903,"b":1.02,"r":0.97},{"w":1905,"b":0.88,"r":0.70},{"w":1907,"b":1.15,"r":0.98},{"w":1909,"b":1.05,"r":0.85},{"w":1911,"b":1.25,"r":0.97},{"w":1913,"b":1.00,"r":0.68},
{"w":1915,"b":1.15,"r":0.90},{"w":1917,"b":1.05,"r":0.78},{"w":1919,"b":1.30,"r":0.96},{"w":1921,"b":1.02,"r":0.72},{"w":1922,"b":1.10,"r":0.92},{"w":1924,"b":1.02,"r":0.70},{"w":1926,"b":1.15,"r":0.98},{"w":1928,"b":0.92,"r":0.80},{"w":1930,"b":1.18,"r":0.95},{"w":1932,"b":1.10,"r":0.85},
{"w":1935,"b":1.22,"r":0.98},{"w":1939,"b":1.02,"r":0.85},{"w":1941,"b":1.15,"r":0.97},{"w":1943,"b":0.95,"r":0.75},{"w":1945,"b":1.28,"r":0.95},{"w":1947,"b":1.08,"r":0.82},{"w":1949,"b":0.92,"r":0.98},{"w":1951,"b":1.15,"r":0.75},{"w":1953,"b":0.95,"r":0.97},{"w":1955,"b":1.18,"r":0.82},
{"w":1958.5,"b":1.00,"r":0.95}
],
"stubs": [{"w":1215.7},{"w":1238.8},{"w":1242.8},{"w":1247.4},{"w":1334.5},{"w":1335.7},{"w":1393.8},{"w":1402.8},{"w":1483.3},{"w":1486.5},{"w":1548.2},{"w":1550.8},{"w":1640.4},{"w":1718.5},{"w":1722.5},{"w":1727.4}],
"brackets": [{"w1":1238.8,"w2":1242.8},{"w1":1334.5,"w2":1335.7},{"w1":1393.8,"w2":1402.8},{"w1":1483.3,"w2":1486.5},{"w1":1548.2,"w2":1550.8},{"w1":1722.5,"w2":1727.4}],
"labels": [
{"label":"Lα","w1":1215.7,"w2":1215.7},
{"label":"N V 2p-2s","w1":1240.8,"w2":1240.8},
{"label":"C III 2p-2s","w1":1247.4,"w2":1254.2},
{"label":"C II 2d-2p","w1":1335.1,"w2":1335.1},
{"label":"Si IV","w1":1398.3,"w2":1398.3},
{"label":"N IV 2p³-2s²","w1":1484.9,"w2":1484.9},
{"label":"C IV","w1":1549.5,"w2":1549.5},
{"label":"He II 3-2","w1":1640.4,"w2":1640.4},
{"label":"N IV","w1":1718.5,"w2":1718.5},
{"label":"Si IV 4p - 3d","w1":1725,"w2":1733}
]
},
"layer": [
{"data": {"name": "spec"},
 "mark": {"type": "line", "color": "#0000ff", "strokeWidth": 1, "clip": true},
 "encoding": {
  "y": {"field": "w", "type": "quantitative", "scale": {"domain": [1180, 1960], "reverse": true, "nice": false, "zero": false},
        "axis": {"orient": "left", "values": [1200,1300,1400,1500,1600,1700,1800,1900], "format": "d", "tickSize": -17, "labelAngle": 90, "labelAlign": "center", "labelBaseline": "top", "labelPadding": 26, "labelFontSize": 25, "title": "λ / Å", "titleFontSize": 25, "titleAngle": 90, "titleBaseline": "top", "titlePadding": 6}},
  "x": {"field": "b", "type": "quantitative", "scale": {"domain": [0, 2], "nice": false, "zero": false},
        "axis": {"orient": "top", "values": [0,0.2,0.4,0.6,0.8,1,1.2,1.4,1.6,1.8,2], "tickSize": -9, "labelAngle": 90, "labelAlign": "right", "labelBaseline": "middle", "labelPadding": 30, "labelFontSize": 25, "labelOffset": {"condition": {"test": "datum.value === 2", "value": -8}, "value": 0}, "labelExpr": "datum.value % 1 === 0 ? format(datum.value, 'd') : ''", "title": "Normalized flux", "titleFontSize": 26, "titleAngle": 0, "titlePadding": 9}},
  "order": {"field": "w", "type": "quantitative"}}},
{"data": {"name": "spec"},
 "mark": {"type": "line", "color": "#ff0000", "strokeWidth": 1, "clip": true},
 "encoding": {
  "y": {"field": "w", "type": "quantitative", "scale": {"domain": [1180, 1960], "reverse": true, "nice": false, "zero": false},
        "axis": {"orient": "left", "values": [1200,1220,1240,1260,1280,1300,1320,1340,1360,1380,1400,1420,1440,1460,1480,1500,1520,1540,1560,1580,1600,1620,1640,1660,1680,1700,1720,1740,1760,1780,1800,1820,1840,1860,1880,1900,1920,1940], "tickSize": -9, "labels": false, "title": null}},
  "x": {"field": "r", "type": "quantitative", "scale": {"domain": [0, 2], "nice": false, "zero": false},
        "axis": {"orient": "bottom", "values": [0,0.2,0.4,0.6,0.8,1,1.2,1.4,1.6,1.8,2], "tickSize": -9, "labels": false, "title": null}},
  "order": {"field": "w", "type": "quantitative"}}},
{"data": {"name": "stubs"},
 "mark": {"type": "rule", "color": "black", "strokeWidth": 1},
 "encoding": {
  "y": {"field": "w", "type": "quantitative", "scale": {"domain": [1180, 1960], "reverse": true, "nice": false, "zero": false},
        "axis": {"orient": "right", "values": [1200,1300,1400,1500,1600,1700,1800,1900], "tickSize": -17, "labels": false, "title": null}},
  "x": {"datum": 1.087, "type": "quantitative", "scale": {"domain": [0, 2], "nice": false, "zero": false}, "axis": null},
  "x2": {"datum": 1.136}}},
{"data": {"name": "brackets"},
 "mark": {"type": "rule", "color": "black", "strokeWidth": 1},
 "encoding": {
  "y": {"field": "w1", "type": "quantitative", "scale": {"domain": [1180, 1960], "reverse": true, "nice": false, "zero": false},
        "axis": {"orient": "right", "values": [1200,1220,1240,1260,1280,1300,1320,1340,1360,1380,1400,1420,1440,1460,1480,1500,1520,1540,1560,1580,1600,1620,1640,1660,1680,1700,1720,1740,1760,1780,1800,1820,1840,1860,1880,1900,1920,1940], "tickSize": -9, "labels": false, "title": null}},
  "y2": {"field": "w2"},
  "x": {"datum": 1.136, "type": "quantitative", "scale": {"domain": [0, 2], "nice": false, "zero": false}, "axis": null}}},
{"data": {"name": "labels"},
 "mark": {"type": "rule", "color": "black", "strokeWidth": 1},
 "encoding": {
  "y": {"field": "w1", "type": "quantitative", "scale": {"domain": [1180, 1960], "reverse": true, "nice": false, "zero": false}, "axis": null},
  "y2": {"field": "w2"},
  "x": {"datum": 1.136, "type": "quantitative", "scale": {"domain": [0, 2], "nice": false, "zero": false}, "axis": null},
  "x2": {"datum": 1.201}}},
{"data": {"name": "labels"},
 "mark": {"type": "text", "align": "left", "baseline": "middle", "font": "Liberation Sans", "fontSize": 15.5, "color": "black"},
 "encoding": {
  "y": {"field": "w2", "type": "quantitative", "scale": {"domain": [1180, 1960], "reverse": true, "nice": false, "zero": false}, "axis": null},
  "x": {"datum": 1.236, "type": "quantitative", "scale": {"domain": [0, 2], "nice": false, "zero": false}, "axis": null},
  "text": {"field": "label"}}},
{"mark": {"type": "rule", "color": "black", "strokeWidth": 1},
 "encoding": {
  "x": {"datum": 1, "type": "quantitative", "scale": {"domain": [0, 2], "nice": false, "zero": false}, "axis": null}}}
],
"resolve": {"axis": {"x": "independent", "y": "independent"}}
}
